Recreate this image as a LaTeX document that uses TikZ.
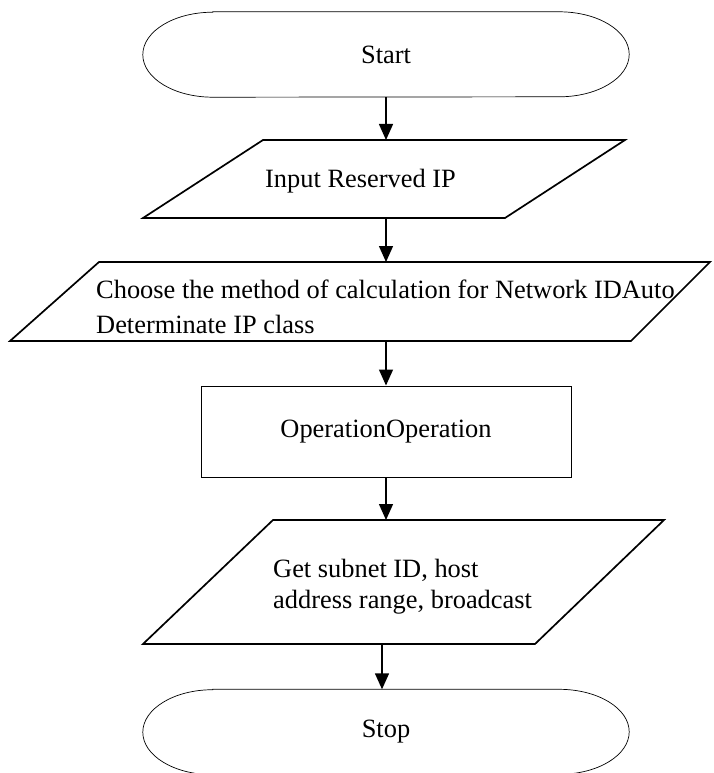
\documentclass[tikz,border=0pt]{standalone}
\usepackage{fontspec}
\setmainfont{Liberation Serif}
\usetikzlibrary{arrows.meta}

\begin{document}
\begin{tikzpicture}[x=1pt,y=-1pt,
		every node/.style={font=\fontsize{26.4}{34}\selectfont},
		flow/.style={-{Triangle[length=16pt,width=14pt]},line width=1.4pt},
		io/.style={draw,line width=1.7pt,line join=miter},
		thin box/.style={draw,line width=1pt},
		term/.style={minimum width=486pt,minimum height=85pt,inner sep=0pt}]
	\useasboundingbox (0,0) rectangle (714,773);
	\clip (0,0) rectangle (714,773);

	% terminals
	\node[term] (start) at (386,54.5) {Start};
	\node[term] (stop) at (386,732) {Stop};
	\foreach \t in {start,stop}
		\draw[line width=0.7pt] ([xshift=70pt]\t.north west) -- ([xshift=-70pt]\t.north east)
			arc[start angle=90,end angle=-90,x radius=70pt,y radius=42.5pt]
			-- ([xshift=70pt]\t.south west)
			arc[start angle=270,end angle=90,x radius=70pt,y radius=42.5pt] -- cycle;

	% input
	\draw[io] (143,218) -- (263,140) -- (625,140) -- (505,218) -- cycle;
	\coordinate (in-n) at (386,140);
	\coordinate (in-s) at (386,218);
	\node[anchor=base west,inner sep=0pt] (in) at (265,187) {Input Reserved IP};

	% method
	\draw[io] (10,341) -- (99,262) -- (710,262) -- (631,341) -- cycle;
	\coordinate (calc-n) at (386,262);
	\coordinate (calc-s) at (386,341);
	\node[anchor=base west,inner sep=0pt] (calc) at (96,298)
		{Choose the method of calculation for Network IDAuto};
	\node[anchor=base west,inner sep=0pt] (calc2) at (96,333) {Determinate IP class};

	\node[thin box,minimum width=370pt,minimum height=91pt] (op) at (386,431.5) {OperationOperation};

	% output
	\draw[io] (143,644) -- (273,520) -- (664,520) -- (535,644) -- cycle;
	\coordinate (get-n) at (386,520);
	\coordinate (get-s) at (382,644);
	\node[anchor=base west,inner sep=0pt] (get) at (273,577) {Get subnet ID, host};
	\node[anchor=base west,inner sep=0pt] (get2) at (273,608) {address range, broadcast};

	\draw[flow] (start) -- (in-n);
	\draw[flow] (in-s) -- (calc-n);
	\draw[flow] (calc-s) -- (op);
	\draw[flow] (op) -- (get-n);
	\draw[flow] (get-s) -- (stop.north -| get-s);
\end{tikzpicture}
\end{document}
